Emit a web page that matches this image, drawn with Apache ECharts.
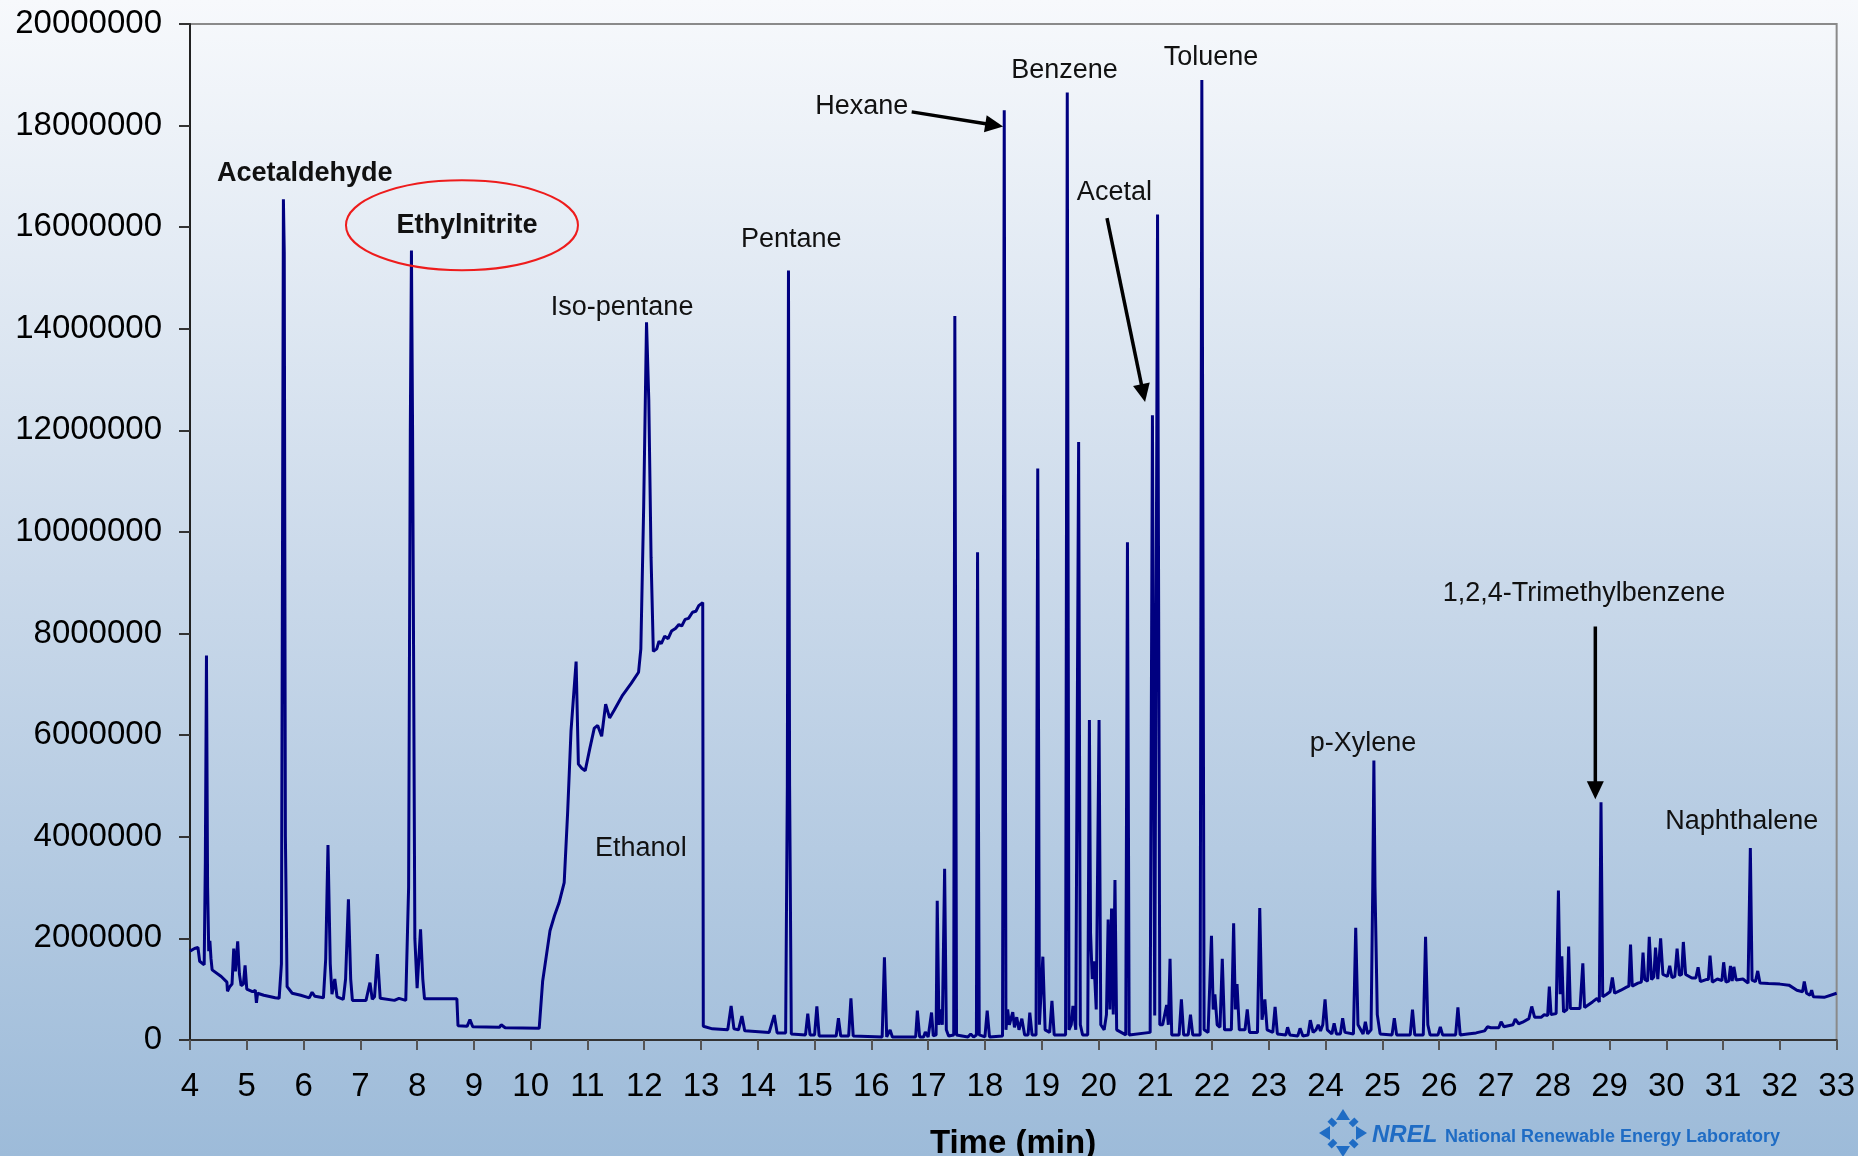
<!DOCTYPE html>
<html>
<head>
<meta charset="utf-8">
<script src="https://cdn.jsdelivr.net/npm/echarts/dist/echarts.min.js"></script>
<style>
html,body{margin:0;padding:0;width:1858px;height:1156px;overflow:hidden;
background:linear-gradient(to bottom,#f7f9fc 0%,#cad9ea 50%,#9dbbd9 100%);}
#chart{width:1858px;height:1156px;}
</style>
</head>
<body>
<div id="chart"></div>
<script>
// ---- data (retention time in minutes, detector signal) ----
const timeMin = [
4.00,4.08,4.14,4.17,4.25,4.27,4.29,4.31,4.33,4.35,4.37,4.39,4.55,4.65,4.66,4.70,4.74,4.77,4.80,4.84,
4.87,4.90,4.94,4.97,5.00,5.10,5.15,5.17,5.19,5.30,5.50,5.57,5.61,5.63,5.645,5.66,5.68,5.71,5.80,5.95,
6.10,6.15,6.20,6.35,6.39,6.43,6.47,6.50,6.55,6.59,6.70,6.74,6.79,6.83,6.86,7.10,7.17,7.21,7.25,7.30,
7.35,7.60,7.68,7.80,7.85,7.88,7.90,7.92,7.96,8.00,8.03,8.06,8.10,8.13,8.70,8.72,8.88,8.93,8.98,9.45,
9.48,9.55,10.15,10.21,10.28,10.34,10.42,10.50,10.59,10.65,10.71,10.75,10.80,10.84,10.90,10.96,11.04,11.12,11.18,11.25,
11.32,11.39,11.47,11.62,11.77,11.90,11.94,11.99,12.04,12.08,12.12,12.16,12.22,12.26,12.30,12.36,12.42,12.48,12.55,12.61,
12.66,12.72,12.78,12.85,12.91,12.96,13.03,13.04,
13.20,13.47,13.53,13.58,13.66,13.72,13.77,14.20,14.29,14.34,14.49,14.52,14.54,14.56,14.59,14.84,14.88,14.92,15.00,15.04,
15.08,15.38,15.42,15.46,15.60,15.64,15.68,16.19,16.23,16.27,16.33,16.37,16.78,16.81,16.85,16.92,16.95,17.00,17.03,17.06,
17.09,17.14,17.16,17.19,17.22,17.25,17.29,17.32,17.36,17.45,17.47,17.50,17.70,17.75,17.80,17.85,17.87,17.90,18.00,18.04,
18.08,18.31,18.34,18.37,18.40,18.43,18.49,18.52,18.56,18.60,18.65,18.70,18.76,18.79,18.83,18.90,18.93,18.96,19.02,19.06,
19.14,19.18,19.22,19.42,19.45,19.48,19.52,19.55,19.60,19.65,19.68,19.72,19.81,19.84,19.86,19.89,19.92,19.96,20.01,20.04,
20.10,20.14,20.17,20.20,20.23,20.26,20.29,20.32,20.48,20.51,20.54,20.91,20.95,20.99,21.04,21.08,21.13,21.20,21.23,21.26,
21.29,21.42,21.46,21.50,21.58,21.62,21.66,21.79,21.82,21.86,21.93,21.99,22.02,22.05,22.09,22.14,22.18,22.22,22.34,22.38,
22.41,22.44,22.48,22.58,22.62,22.66,22.80,22.84,22.88,22.93,22.97,23.07,23.11,23.15,23.30,23.33,23.37,23.51,23.55,23.60,
23.69,23.73,23.78,23.83,23.87,23.91,23.95,23.99,24.03,24.11,24.15,24.19,24.26,24.30,24.34,24.49,24.53,24.57,24.66,24.70,
24.74,24.80,24.83,24.85,24.87,24.91,24.96,25.17,25.21,25.25,25.49,25.53,25.57,25.72,25.76,25.80,25.84,25.98,26.02,26.06,
26.29,26.33,26.37,26.50,26.65,26.80,26.85,26.91,27.05,27.09,27.14,27.30,27.34,27.40,27.47,27.58,27.63,27.68,27.80,27.85,
27.91,27.94,27.97,28.06,28.10,28.13,28.16,28.19,28.25,28.28,28.31,28.48,28.53,28.56,28.70,28.78,28.82,28.85,28.88,28.95,
29.01,29.05,29.09,29.20,29.30,29.34,29.37,29.40,29.50,29.56,29.59,29.62,29.67,29.70,29.74,29.78,29.81,29.85,29.90,29.94,
30.02,30.06,30.10,30.15,30.19,30.23,30.27,30.30,30.34,30.45,30.52,30.56,30.60,30.70,30.74,30.77,30.81,30.90,30.98,31.01,
31.05,31.10,31.13,31.16,31.19,31.23,31.35,31.44,31.48,31.51,31.57,31.61,31.65,31.80,32.00,32.16,32.30,32.40,32.43,32.47,
32.53,32.56,32.59,32.78,33.00
];
const signal = [
1.75e6,1.80e6,1.82e6,1.55e6,1.48e6,3.5e6,7.57e6,3.0e6,1.75e6,1.95e6,1.6e6,1.38e6,1.25e6,1.14e6,0.96e6,1.05e6,1.10e6,1.80e6,1.35e6,1.94e6,
1.30e6,1.07e6,1.10e6,1.47e6,1.00e6,0.95e6,0.98e6,0.73e6,0.92e6,0.88e6,0.83e6,0.82e6,1.5e6,10.0e6,16.55e6,15.5e6,4.0e6,1.05e6,0.92e6,0.88e6,
0.83e6,0.94e6,0.86e6,0.83e6,1.6e6,3.84e6,1.5e6,0.90e6,1.20e6,0.85e6,0.80e6,1.20e6,2.77e6,1.20e6,0.78e6,0.78e6,1.13e6,0.80e6,0.85e6,1.69e6,
0.82e6,0.78e6,0.82e6,0.78e6,3.0e6,12.0e6,15.54e6,12.0e6,2.0e6,1.02e6,1.6e6,2.18e6,1.20e6,0.81e6,0.81e6,0.28e6,0.27e6,0.40e6,0.26e6,0.25e6,
0.30e6,0.24e6,0.23e6,1.15e6,1.69e6,2.15e6,2.45e6,2.70e6,3.10e6,4.46e6,6.08e6,6.69e6,7.45e6,5.43e6,5.35e6,5.30e6,5.73e6,6.14e6,6.19e6,5.98e6,
6.61e6,6.34e6,6.49e6,6.79e6,7.02e6,7.24e6,7.70e6,10.5e6,14.13e6,12.6e6,9.5e6,7.65e6,7.70e6,7.85e6,7.80e6,7.95e6,7.90e6,8.05e6,8.10e6,8.18e6,
8.15e6,8.28e6,8.30e6,8.42e6,8.44e6,8.55e6,8.61e6,0.27e6,
0.22e6,0.20e6,0.67e6,0.22e6,0.20e6,0.47e6,0.18e6,0.15e6,0.49e6,0.14e6,0.14e6,5.0e6,15.15e6,5.0e6,0.12e6,0.10e6,0.52e6,0.10e6,0.10e6,0.66e6,
0.08e6,0.08e6,0.43e6,0.08e6,0.08e6,0.82e6,0.08e6,0.06e6,1.63e6,0.06e6,0.20e6,0.06e6,0.06e6,0.58e6,0.06e6,0.06e6,0.16e6,0.06e6,0.06e6,0.54e6,
0.08e6,0.10e6,2.74e6,0.30e6,0.60e6,0.30e6,3.37e6,0.20e6,0.08e6,0.10e6,14.25e6,0.10e6,0.06e6,0.12e6,0.06e6,0.10e6,9.60e6,0.10e6,0.06e6,0.58e6,
0.06e6,0.08e6,18.30e6,0.20e6,0.60e6,0.30e6,0.55e6,0.25e6,0.45e6,0.20e6,0.42e6,0.10e6,0.10e6,0.54e6,0.10e6,0.10e6,11.25e6,0.30e6,1.64e6,0.20e6,
0.15e6,0.77e6,0.10e6,0.10e6,18.65e6,0.20e6,0.30e6,0.67e6,0.20e6,11.77e6,0.30e6,0.10e6,0.10e6,6.30e6,2.10e6,1.20e6,1.55e6,0.60e6,6.30e6,0.30e6,
0.20e6,0.50e6,2.37e6,0.60e6,2.59e6,0.50e6,3.15e6,0.20e6,0.10e6,9.80e6,0.10e6,0.15e6,12.30e6,0.48e6,16.25e6,0.30e6,0.30e6,0.69e6,0.30e6,1.60e6,
0.10e6,0.10e6,0.80e6,0.10e6,0.10e6,0.50e6,0.10e6,0.10e6,18.90e6,0.20e6,0.15e6,2.05e6,0.60e6,0.90e6,0.30e6,0.25e6,1.60e6,0.20e6,0.20e6,2.30e6,
0.60e6,1.10e6,0.20e6,0.20e6,0.60e6,0.15e6,0.15e6,2.60e6,0.40e6,0.80e6,0.20e6,0.15e6,0.65e6,0.12e6,0.10e6,0.25e6,0.10e6,0.08e6,0.23e6,0.08e6,
0.10e6,0.39e6,0.15e6,0.20e6,0.30e6,0.18e6,0.30e6,0.80e6,0.20e6,0.12e6,0.33e6,0.12e6,0.12e6,0.43e6,0.15e6,0.12e6,2.21e6,0.30e6,0.12e6,0.36e6,
0.12e6,0.20e6,3.00e6,5.50e6,3.00e6,0.50e6,0.12e6,0.10e6,0.43e6,0.10e6,0.10e6,0.60e6,0.10e6,0.10e6,2.03e6,0.30e6,0.10e6,0.10e6,0.26e6,0.10e6,
0.10e6,0.64e6,0.10e6,0.12e6,0.14e6,0.18e6,0.26e6,0.24e6,0.24e6,0.36e6,0.26e6,0.30e6,0.41e6,0.32e6,0.35e6,0.42e6,0.66e6,0.45e6,0.45e6,0.50e6,
0.48e6,1.05e6,0.50e6,0.52e6,2.94e6,0.90e6,1.65e6,0.55e6,0.60e6,1.84e6,0.62e6,0.62e6,1.51e6,0.64e6,0.75e6,0.82e6,0.75e6,4.68e6,0.85e6,0.90e6,
0.95e6,1.23e6,0.92e6,0.98e6,1.04e6,1.06e6,1.88e6,1.06e6,1.12e6,1.14e6,1.72e6,1.19e6,1.16e6,2.03e6,1.19e6,1.24e6,1.82e6,1.20e6,2.00e6,1.29e6,
1.25e6,1.46e6,1.23e6,1.25e6,1.80e6,1.27e6,1.29e6,1.93e6,1.29e6,1.22e6,1.22e6,1.43e6,1.15e6,1.19e6,1.19e6,1.66e6,1.14e6,1.20e6,1.17e6,1.53e6,
1.14e6,1.16e6,1.46e6,1.16e6,1.44e6,1.18e6,1.20e6,1.12e6,3.78e6,1.18e6,1.15e6,1.36e6,1.12e6,1.11e6,1.10e6,1.08e6,0.98e6,0.95e6,1.15e6,0.92e6,
0.88e6,0.98e6,0.85e6,0.84e6,0.92e6
];

// axis settings
const xMin = 4, xMax = 33, xStep = 1;
const yMin = 0, yMax = 20000000, yStep = 2000000;

// peak annotations (data coordinates)
const labelNames  = ['Acetaldehyde','Ethylnitrite','Iso-pentane','Ethanol','Pentane','Hexane','Benzene','Toluene','Acetal','p-Xylene','1,2,4-Trimethylbenzene','Naphthalene'];
const labelTimes  = [6.02, 8.88, 11.61, 11.94, 14.59, 15.83, 19.40, 21.98, 20.28, 24.66, 28.55, 31.33];
const labelLevels = [17.11e6, 16.09e6, 14.48e6, 3.83e6, 15.81e6, 18.44e6, 19.14e6, 19.40e6, 16.74e6, 5.89e6, 8.84e6, 4.36e6];
const labelBold   = [true, true, false, false, false, false, false, false, false, false, false, false];

// arrows: from / to (data coordinates)
const arrowFrom = [[16.71, 18.27e6], [20.15, 16.18e6], [28.75, 8.14e6]];
const arrowTo   = [[18.32, 17.98e6], [20.82, 12.56e6], [28.75, 4.74e6]];

// highlight ellipse around Ethylnitrite label
const ellipseCenter = [8.79, 16.04e6];

const FONT = '"Liberation Sans", Arial, sans-serif';
const chart = echarts.init(document.getElementById('chart'), null, {renderer: 'canvas'});

chart.setOption({
  animation: false,
  backgroundColor: 'transparent',
  grid: {left: 190, right: 21, top: 24, bottom: 116, show: true, borderColor: '#8a8a8a', borderWidth: 2, backgroundColor: 'transparent'},
  xAxis: {
    type: 'value', min: xMin, max: xMax, interval: xStep,
    axisLine: {show: true, onZero: false, lineStyle: {color: '#333', width: 2}},
    axisTick: {show: true, length: 10, lineStyle: {color: '#555', width: 2}},
    axisLabel: {color: '#000', fontSize: 33, fontFamily: FONT, margin: 30},
    splitLine: {show: false}
  },
  yAxis: {
    type: 'value', min: yMin, max: yMax, interval: yStep,
    axisLine: {show: true, onZero: false, lineStyle: {color: '#222', width: 2}},
    axisTick: {show: true, length: 11, lineStyle: {color: '#333', width: 2}},
    axisLabel: {color: '#000', fontSize: 33, fontFamily: FONT, margin: 28, padding: [6, 0, 0, 0], formatter: v => String(v)},
    splitLine: {show: false}
  },
  series: [{
    type: 'line',
    data: timeMin.map((t, i) => [t, signal[i]]),
    showSymbol: false, symbol: 'none',
    lineStyle: {color: '#000080', width: 3},
    z: 2
  }]
});

const toPx = (t, v) => chart.convertToPixel({gridIndex: 0}, [t, v]);
const graphics = [];

labelNames.forEach((name, i) => {
  const p = toPx(labelTimes[i], labelLevels[i]);
  graphics.push({type: 'text', x: p[0], y: p[1] + 3, z: 100,
    style: {text: name, font: (labelBold[i] ? 'bold ' : '') + '27px ' + FONT, fill: '#111', align: 'center', verticalAlign: 'middle'}});
});

arrowFrom.forEach((f, i) => {
  const p0 = toPx(f[0], f[1]), p1 = toPx(arrowTo[i][0], arrowTo[i][1]);
  const dx = p1[0] - p0[0], dy = p1[1] - p0[1], L = Math.hypot(dx, dy);
  const ux = dx / L, uy = dy / L, hl = 18, hw = 17;
  const bx = p1[0] - ux * hl, by = p1[1] - uy * hl;
  graphics.push({type: 'line', z: 100, shape: {x1: p0[0], y1: p0[1], x2: bx + ux * 2, y2: by + uy * 2}, style: {stroke: '#000', lineWidth: 3.5}});
  graphics.push({type: 'polygon', z: 100, shape: {points: [[p1[0], p1[1]], [bx - uy * hw / 2, by + ux * hw / 2], [bx + uy * hw / 2, by - ux * hw / 2]]}, style: {fill: '#000'}});
});

const ec = toPx(ellipseCenter[0], ellipseCenter[1]);
graphics.push({type: 'ellipse', z: 99, shape: {cx: ec[0], cy: ec[1], rx: 116, ry: 45}, style: {fill: 'none', stroke: '#ee1c1c', lineWidth: 2}});

// axis title
graphics.push({type: 'text', x: 1013, y: 1144, z: 100, style: {text: 'Time (min)', font: 'bold 33px ' + FONT, fill: '#000', align: 'center', verticalAlign: 'middle'}});

// NREL logo
const blue = '#1f6cc4';
const lc = [1343, 1133];
for (let k = 0; k < 8; k++) {
  const a = k * Math.PI / 4;
  const cx = lc[0] + Math.cos(a) * 15, cy = lc[1] + Math.sin(a) * 15;
  if (k % 2 === 0) {
    graphics.push({type: 'polygon', z: 100, shape: {points: [
      [cx + Math.cos(a) * 9, cy + Math.sin(a) * 9],
      [cx - Math.sin(a) * 7 - Math.cos(a) * 2, cy + Math.cos(a) * 7 - Math.sin(a) * 2],
      [cx + Math.sin(a) * 7 - Math.cos(a) * 2, cy - Math.cos(a) * 7 - Math.sin(a) * 2]]}, style: {fill: blue}});
  } else {
    graphics.push({type: 'rect', z: 100, x: cx, y: cy, rotation: -a, shape: {x: -4, y: -3, width: 8, height: 6}, style: {fill: blue}});
  }
}
graphics.push({type: 'text', x: 1372, y: 1135, z: 100, style: {text: 'NREL', font: 'italic bold 24px ' + FONT, fill: blue, align: 'left', verticalAlign: 'middle'}});
graphics.push({type: 'text', x: 1445, y: 1137, z: 100, style: {text: 'National Renewable Energy Laboratory', font: 'bold 18px ' + FONT, fill: blue, align: 'left', verticalAlign: 'middle'}});

chart.setOption({graphic: graphics});
</script>
</body>
</html>
